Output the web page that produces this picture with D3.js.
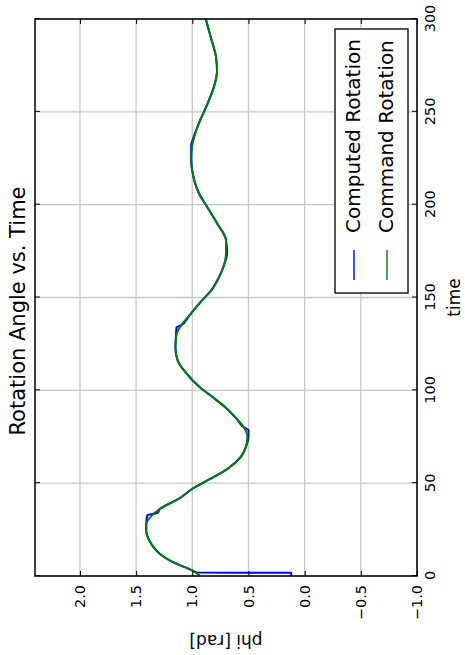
<!DOCTYPE html>
<html>
<head>
<meta charset="utf-8">
<script src="https://cdn.jsdelivr.net/npm/d3@7"></script>
<style>
  body { margin: 0; background: #fff; }
  text { font-family: "DejaVu Sans", sans-serif; }
</style>
</head>
<body>
<div id="chart"></div>
<script>
// Data (time in s, phi in rad)
var commandTime = [0, 3, 8, 12, 16, 20, 24, 28, 32, 36, 42, 47, 52, 58, 64, 70, 75, 80, 85, 90, 95, 102, 109, 116, 123, 130, 135, 140, 148, 154, 160, 167, 174, 181, 190, 199, 206, 215, 224, 232, 244, 255, 265, 272, 280, 289, 300];
var commandPhi = [0.93, 1.0, 1.19, 1.29, 1.35, 1.39, 1.41, 1.41, 1.37, 1.29, 1.11, 1.0, 0.85, 0.68, 0.57, 0.52, 0.51, 0.54, 0.61, 0.69, 0.79, 0.94, 1.05, 1.13, 1.15, 1.14, 1.1, 1.03, 0.92, 0.83, 0.77, 0.72, 0.7, 0.7, 0.78, 0.87, 0.94, 0.99, 1.01, 1.0, 0.94, 0.86, 0.8, 0.78, 0.79, 0.83, 0.88];

var computedTime = [0, 1.7, 1.9, 3, 8, 12, 16, 20, 24, 28, 32.8, 34, 36, 42, 47, 52, 58, 64, 70, 75, 78.6, 80, 85, 90, 95, 102, 109, 116, 123, 130, 134, 135, 140, 148, 154, 160, 167, 174, 181, 190, 199, 206, 215, 224, 232, 236, 244, 255, 265, 272, 280, 289, 300];
var computedPhi = [0.12, 0.12, 0.96, 1.0, 1.19, 1.29, 1.35, 1.39, 1.41, 1.41, 1.4, 1.31, 1.29, 1.11, 1.0, 0.85, 0.68, 0.57, 0.52, 0.5, 0.5, 0.54, 0.61, 0.69, 0.79, 0.94, 1.05, 1.13, 1.15, 1.145, 1.14, 1.1, 1.03, 0.92, 0.83, 0.77, 0.72, 0.69, 0.7, 0.78, 0.87, 0.94, 0.99, 1.01, 1.01, 0.99, 0.94, 0.86, 0.8, 0.78, 0.79, 0.83, 0.88];

var timeTicks = [0, 50, 100, 150, 200, 250, 300];
var phiTicks = [-1.0, -0.5, 0.0, 0.5, 1.0, 1.5, 2.0];
var seriesNames = ["Computed Rotation", "Command Rotation"];
var seriesColors = ["#0000ff", "#008000"];

// The figure is drawn upright, then turned a quarter turn to the left
var svgWidth = 465;
var svgHeight = 655;
var figW = svgHeight, figH = svgWidth;

var margin = { top: 35, right: 19, bottom: 48, left: 79 };
var width = figW - margin.left - margin.right;
var height = figH - margin.top - margin.bottom;

var svg = d3.select("#chart")
    .append("svg")
    .attr("width", svgWidth)
    .attr("height", svgHeight);

var fig = svg.append("g")
    .attr("transform", `translate(0, ${svgHeight}) rotate(-90)`);

var chartGroup = fig.append("g")
    .attr("transform", `translate(${margin.left}, ${margin.top})`);

var x = d3.scaleLinear().domain([0, 300]).range([0, width]);
var y = d3.scaleLinear().domain([-1, 2.4]).range([height, 0]);

// grid
chartGroup.append("g")
    .selectAll("line")
    .data(timeTicks)
    .enter()
    .append("line")
    .attr("x1", d => x(d)).attr("x2", d => x(d))
    .attr("y1", 0).attr("y2", height)
    .attr("stroke", "#c8c8c8")
    .attr("stroke-width", 1.3);

chartGroup.append("g")
    .selectAll("line")
    .data(phiTicks)
    .enter()
    .append("line")
    .attr("x1", 0).attr("x2", width)
    .attr("y1", d => y(d)).attr("y2", d => y(d))
    .attr("stroke", "#c8c8c8")
    .attr("stroke-width", 1.3);

// lines
var lineGen = d3.line()
    .x(d => x(d[0]))
    .y(d => y(d[1]))
    .curve(d3.curveMonotoneX);

var computed = computedTime.map((t, i) => [t, computedPhi[i]]);
var command = commandTime.map((t, i) => [t, commandPhi[i]]);

[computed, command].forEach(function(pts, i) {
    chartGroup.append("path")
        .datum(pts)
        .attr("fill", "none")
        .attr("stroke", seriesColors[i])
        .attr("stroke-width", 2)
        .attr("stroke-linejoin", "round")
        .attr("d", lineGen);
});

// axes, ticks pointing inward on all four sides
function styleAxis(g) {
    g.select(".domain").remove();
    g.selectAll(".tick line").attr("stroke", "#000").attr("stroke-width", 1);
    g.selectAll("text")
        .attr("fill", "#000")
        .style("font-family", "DejaVu Sans, sans-serif")
        .style("font-size", "14.5px");
}

chartGroup.append("g")
    .attr("transform", `translate(0, ${height})`)
    .call(d3.axisBottom(x).tickValues(timeTicks).tickFormat(d3.format("d"))
        .tickSizeInner(-5).tickSizeOuter(0).tickPadding(8))
    .call(styleAxis);

chartGroup.append("g")
    .call(d3.axisTop(x).tickValues(timeTicks).tickFormat("")
        .tickSizeInner(-5).tickSizeOuter(0))
    .call(styleAxis);

chartGroup.append("g")
    .call(d3.axisLeft(y).tickValues(phiTicks).tickFormat(d3.format(".1f"))
        .tickSizeInner(-5).tickSizeOuter(0).tickPadding(9))
    .call(styleAxis);

chartGroup.append("g")
    .attr("transform", `translate(${width}, 0)`)
    .call(d3.axisRight(y).tickValues(phiTicks).tickFormat("")
        .tickSizeInner(-5).tickSizeOuter(0))
    .call(styleAxis);

// frame
chartGroup.append("rect")
    .attr("width", width)
    .attr("height", height)
    .attr("fill", "none")
    .attr("stroke", "#000")
    .attr("stroke-width", 1.5);

// title and axis labels
fig.append("text")
    .attr("x", 344)
    .attr("y", 25)
    .attr("text-anchor", "middle")
    .style("font-size", "21px")
    .text("Rotation Angle vs. Time");

fig.append("text")
    .attr("x", margin.left + width / 2)
    .attr("y", 460)
    .attr("text-anchor", "middle")
    .style("font-size", "17px")
    .text("time");

fig.append("text")
    .attr("transform", `translate(20, ${margin.top + height / 2}) rotate(-90)`)
    .attr("text-anchor", "middle")
    .style("font-size", "17px")
    .text("phi [rad]");

// legend, lower right
var legend = chartGroup.append("g")
    .attr("transform", `translate(${362 - margin.left}, ${335 - margin.top})`);

legend.append("rect")
    .attr("width", 264)
    .attr("height", 73)
    .attr("fill", "#fff")
    .attr("stroke", "#000")
    .attr("stroke-width", 1.3);

var entries = legend.selectAll(".entry")
    .data(seriesNames)
    .enter()
    .append("g")
    .attr("transform", (d, i) => `translate(0, ${19 + i * 33})`);

entries.append("line")
    .attr("x1", 13).attr("x2", 43)
    .attr("stroke", (d, i) => seriesColors[i])
    .attr("stroke-width", 1.4);

entries.append("text")
    .attr("x", 60)
    .attr("dy", "0.32em")
    .style("font-size", "20px")
    .text(d => d);
</script>
</body>
</html>
